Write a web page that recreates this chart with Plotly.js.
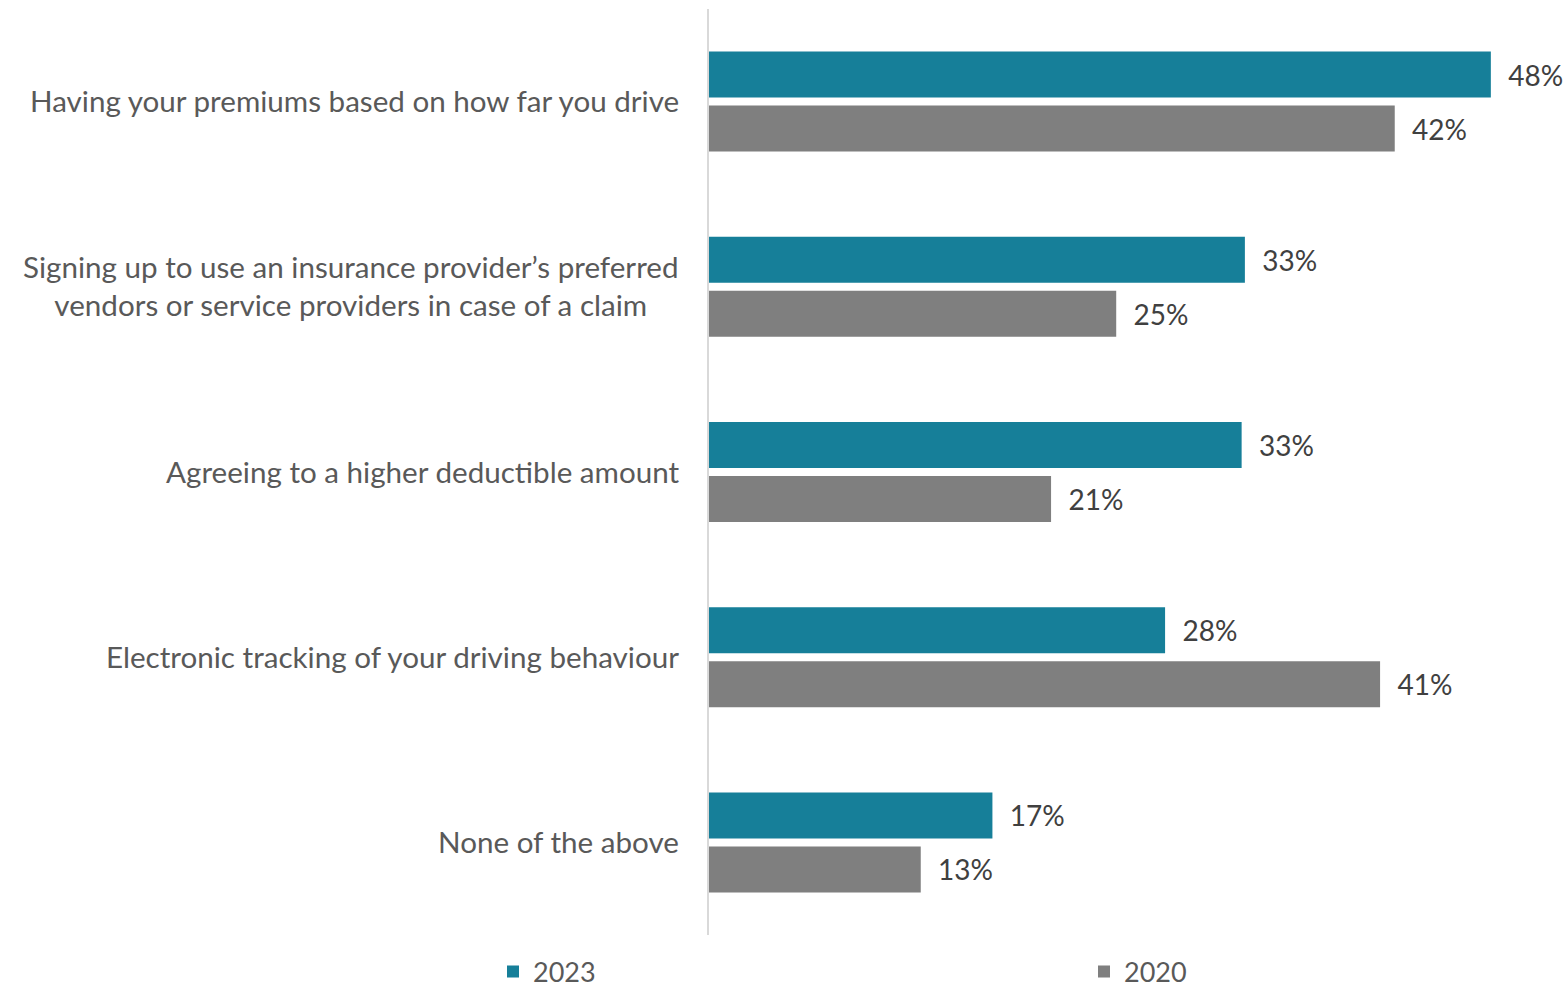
<!DOCTYPE html>
<html><head><meta charset="utf-8">
<script src="https://cdn.plot.ly/plotly-3.0.1.min.js"></script>
<style>html,body{margin:0;padding:0;background:#fff}#chart{width:1565px;height:990px}</style>
</head><body><div id="chart"></div>
<script>
const categories = [
  "Having your premiums based on how far you drive",
  "Signing up to use an insurance provider’s preferred<br>vendors or service providers in case of a claim",
  "Agreeing to a higher deductible amount",
  "Electronic tracking of your driving behaviour",
  "None of the above"
];
const values2023 = [48, 32.9, 32.7, 28, 17.4];
const values2020 = [42.1, 25, 21, 41.2, 13];
const seriesNames = ["2023", "2020"];

const FONT = "Lato, 'Open Sans', sans-serif";
const mk = (name, vals, color, leg) => ({
  type: 'bar', orientation: 'h', name: name, legend: leg,
  y: categories, x: vals,
  marker: {color: color},
  texttemplate: '\u00a0\u00a0%{x:.0f}%', textposition: 'outside', cliponaxis: false,
  textfont: {family: FONT, size: 28, color: '#404040'},
  hoverinfo: 'none'
});
const data = [
  mk(seriesNames[0], values2023, '#167F99', 'legend'),
  mk(seriesNames[1], values2020, '#7F7F7F', 'legend2')
];
const annotations = categories.map(c => ({
  text: c, xref: 'paper', yref: 'y', x: 0, y: c, xanchor: 'right', yanchor: 'middle',
  xshift: -28, yshift: 1, align: 'center', showarrow: false,
  font: {family: FONT, size: 29.6, color: '#595959'}
}));
const legendBase = {orientation: 'h', xref: 'container', yref: 'container', y: 1 - 972/990,
  yanchor: 'middle', xanchor: 'left', tracegroupgap: 0,
  font: {family: FONT, size: 27, color: '#595959'}};
const layout = {
  width: 1565, height: 990,
  margin: {l: 709, r: 9, t: 9, b: 55},
  paper_bgcolor: '#fff', plot_bgcolor: '#fff',
  barmode: 'group', bargap: 0.417, bargroupgap: 0.148,
  xaxis: {range: [0, 52], showgrid: false, zeroline: false, showticklabels: false, showline: false, fixedrange: true},
  yaxis: {autorange: 'reversed', showticklabels: false, showgrid: false, zeroline: false,
          showline: true, linecolor: '#D9D9D9', linewidth: 2, ticks: ''},
  showlegend: true,
  legend: Object.assign({}, legendBase, {x: 493/1565}),
  legend2: Object.assign({}, legendBase, {x: 1084/1565}),
  annotations: annotations,
  font: {family: FONT}
};
Plotly.newPlot('chart', data, layout, {displayModeBar: false, staticPlot: true});
</script></body></html>
